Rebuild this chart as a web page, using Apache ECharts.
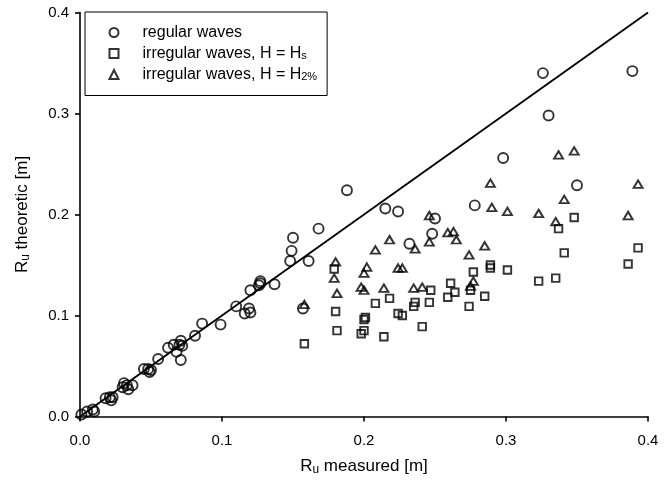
<!DOCTYPE html>
<html>
<head>
<meta charset="utf-8">
<title>Run-up: theoretic vs measured</title>
<script src="https://cdn.jsdelivr.net/npm/echarts@6/dist/echarts.min.js"></script>
<style>
  html, body { margin: 0; padding: 0; background: #fff; }
  #chart { width: 672px; height: 481px; }
</style>
</head>
<body>
<div id="chart"></div>
<script>
// Run-up height: measured vs theoretic, [m]
const regularWaves = [
  [0.326, 0.340], [0.389, 0.342], [0.330, 0.298], [0.298, 0.256], [0.350, 0.229],
  [0.188, 0.224], [0.215, 0.206], [0.224, 0.203], [0.278, 0.209], [0.250, 0.196],
  [0.248, 0.181], [0.232, 0.171], [0.168, 0.186], [0.150, 0.177], [0.149, 0.164],
  [0.148, 0.154], [0.161, 0.154], [0.157, 0.107], [0.127, 0.134], [0.127, 0.132],
  [0.126, 0.130], [0.137, 0.131], [0.120, 0.125], [0.110, 0.109], [0.119, 0.107],
  [0.120, 0.103], [0.116, 0.102], [0.086, 0.092], [0.099, 0.091], [0.081, 0.080],
  [0.071, 0.075], [0.066, 0.071], [0.062, 0.068], [0.070, 0.071], [0.072, 0.070],
  [0.068, 0.064], [0.055, 0.057], [0.071, 0.056], [0.050, 0.046], [0.048, 0.047],
  [0.045, 0.047], [0.049, 0.044], [0.037, 0.031], [0.033, 0.031], [0.030, 0.029],
  [0.031, 0.033], [0.034, 0.027], [0.021, 0.019], [0.023, 0.019], [0.018, 0.018],
  [0.022, 0.016], [0.009, 0.007], [0.005, 0.005], [0.001, 0.002], [0.010, 0.005]
];

const irregularHs = [
  [0.348, 0.197], [0.337, 0.186], [0.393, 0.167], [0.341, 0.162], [0.386, 0.151],
  [0.289, 0.150], [0.289, 0.147], [0.301, 0.145], [0.277, 0.143], [0.323, 0.134],
  [0.335, 0.137], [0.179, 0.146], [0.261, 0.132], [0.264, 0.123], [0.247, 0.125],
  [0.275, 0.125], [0.259, 0.118], [0.285, 0.119], [0.218, 0.117], [0.208, 0.112],
  [0.236, 0.113], [0.235, 0.109], [0.246, 0.113], [0.274, 0.109], [0.224, 0.102],
  [0.227, 0.100], [0.180, 0.104], [0.201, 0.098], [0.200, 0.096], [0.241, 0.089],
  [0.181, 0.085], [0.200, 0.085], [0.198, 0.082], [0.214, 0.079], [0.158, 0.072]
];

const irregularH2 = [
  [0.337, 0.259], [0.348, 0.263], [0.289, 0.231], [0.393, 0.230], [0.341, 0.215],
  [0.290, 0.207], [0.301, 0.203], [0.323, 0.201], [0.386, 0.199], [0.335, 0.193],
  [0.246, 0.199], [0.259, 0.182], [0.263, 0.183], [0.265, 0.175], [0.218, 0.175],
  [0.246, 0.173], [0.236, 0.166], [0.285, 0.169], [0.208, 0.165], [0.274, 0.160],
  [0.180, 0.153], [0.202, 0.148], [0.200, 0.142], [0.224, 0.147], [0.227, 0.147],
  [0.179, 0.137], [0.181, 0.122], [0.198, 0.128], [0.200, 0.125], [0.214, 0.127],
  [0.235, 0.127], [0.241, 0.128], [0.277, 0.134], [0.275, 0.129], [0.158, 0.111]
];

// Line of perfect agreement
const agreementLine = [[0, 0], [0.4, 0.4]];

const axisRange = { min: 0, max: 0.4, step: 0.1 };

const FONT = '"Liberation Sans", Arial, Helvetica, sans-serif';

const markerStyle = {
  color: 'rgba(0,0,0,0)',
  borderColor: '#000',
  borderWidth: 1.9
};

const titleRich = {
  r: { fontSize: 17, fontFamily: FONT, color: '#000' },
  s: { fontSize: 12, fontFamily: FONT, color: '#000', verticalAlign: 'bottom', padding: [7, 0, 0, 0] }
};

const chart = echarts.init(document.getElementById('chart'), null, { renderer: 'canvas' });

chart.setOption({
  animation: false,
  backgroundColor: '#fff',
  grid: { left: 80, right: 24, top: 12.5, bottom: 64.5, containLabel: false },
  legend: {
    orient: 'vertical',
    left: 85,
    top: 12,
    padding: [12.5, 10, 13, 23.5],
    itemWidth: 9,
    itemHeight: 9,
    itemGap: 5,
    borderColor: '#000',
    borderWidth: 1,
    backgroundColor: '#fff',
    selectedMode: false,
    textStyle: {
      fontFamily: FONT,
      fontSize: 16,
      color: '#000',
      lineHeight: 16,
      padding: [0, 0, 0, 19],
      rich: {
        sub: { fontFamily: FONT, fontSize: 11, color: '#000', verticalAlign: 'bottom', lineHeight: 10, padding: [0, 0, 0, 0] }
      }
    },
    formatter: function (name) {
      if (name === 'hs') return 'irregular waves, H = H{sub|s}';
      if (name === 'h2') return 'irregular waves, H = H{sub|2%}';
      return 'regular waves';
    },
    data: ['regular', 'hs', 'h2']
  },
  xAxis: {
    type: 'value',
    min: axisRange.min,
    max: axisRange.max,
    interval: axisRange.step,
    name: '{r|R}{s|u}{r| measured [m]}',
    nameLocation: 'middle',
    nameGap: 40,
    nameTextStyle: { rich: titleRich },
    axisLine: { show: true, onZero: false, lineStyle: { color: '#000', width: 1.6 } },
    axisTick: { show: true, length: 5, lineStyle: { color: '#000', width: 1.6 } },
    axisLabel: {
      margin: 17, color: '#000', fontFamily: FONT, fontSize: 15,
      formatter: v => v.toFixed(1)
    },
    splitLine: { show: false }
  },
  yAxis: {
    type: 'value',
    min: axisRange.min,
    max: axisRange.max,
    interval: axisRange.step,
    name: '{r|R}{s|u}{r| theoretic [m]}',
    nameLocation: 'middle',
    nameGap: 48,
    nameRotate: 90,
    nameTextStyle: { rich: titleRich },
    axisLine: { show: true, onZero: false, lineStyle: { color: '#000', width: 1.6 } },
    axisTick: { show: true, length: 5, lineStyle: { color: '#000', width: 1.6 } },
    axisLabel: {
      margin: 11, color: '#000', fontFamily: FONT, fontSize: 15,
      formatter: v => v.toFixed(1)
    },
    splitLine: { show: false }
  },
  series: [
    {
      name: 'agreement',
      type: 'line',
      data: agreementLine,
      symbol: 'none',
      lineStyle: { color: '#000', width: 1.9 },
      silent: true,
      z: 1
    },
    {
      name: 'regular',
      type: 'scatter',
      data: regularWaves,
      symbol: 'circle',
      symbolSize: 10,
      itemStyle: markerStyle,
      z: 3
    },
    {
      name: 'hs',
      type: 'scatter',
      data: irregularHs,
      symbol: 'rect',
      symbolSize: 7.5,
      itemStyle: markerStyle,
      z: 3
    },
    {
      name: 'h2',
      type: 'scatter',
      data: irregularH2,
      symbol: 'triangle',
      symbolSize: [9, 7.5],
      itemStyle: markerStyle,
      z: 3
    }
  ]
});
</script>
</body>
</html>
